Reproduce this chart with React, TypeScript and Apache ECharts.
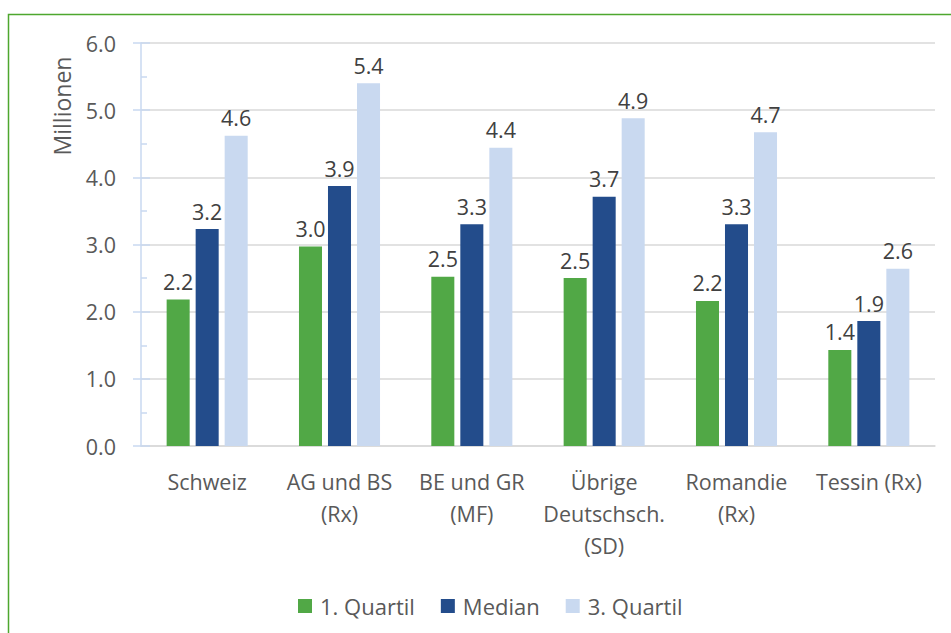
import React, { useEffect, useRef } from "react";
import * as echarts from "echarts";

const categories = ["Schweiz", "AG und BS\n(Rx)", "BE und GR\n(MF)", "Übrige\nDeutschsch.\n(SD)", "Romandie\n(Rx)", "Tessin (Rx)"];
const seriesNames = ["1. Quartil", "Median", "3. Quartil"];
const quartil1 = [2.18, 2.97, 2.52, 2.5, 2.16, 1.43];
const median = [3.23, 3.87, 3.3, 3.71, 3.3, 1.86];
const quartil3 = [4.62, 5.4, 4.44, 4.88, 4.67, 2.64];
const colors = ["#51a846", "#234c8b", "#c9d9f0"];

const FONT = "'Open Sans', 'Noto Sans', sans-serif";

export default function App() {
  const ref = useRef<HTMLDivElement>(null);
  useEffect(() => {
    if (!ref.current) return;
    const chart = echarts.init(ref.current, null, { renderer: "svg" });
    const data = [quartil1, median, quartil3];
    chart.setOption({
      animation: false,
      textStyle: { fontFamily: FONT },
      grid: { left: 141, right: 16, top: 43, bottom: 187, containLabel: false },
      legend: {
        bottom: 16,
        left: 298,
        padding: 0,
        itemWidth: 14,
        itemHeight: 14,
        itemGap: 26,
        icon: "rect",
        textStyle: { fontSize: 22, color: "#595959", fontFamily: FONT, padding: [0, 0, 0, 3] },
        data: seriesNames,
      },
      xAxis: {
        type: "category",
        data: categories,
        axisLine: { show: true, lineStyle: { color: "#d9d9d9", width: 1.5 } },
        axisTick: { show: false },
        axisLabel: { fontSize: 21.5, color: "#595959", margin: 19, lineHeight: 32, interval: 0, fontFamily: FONT },
      },
      yAxis: [
        {
          type: "value",
          min: 0,
          max: 6,
          interval: 1,
          axisLine: { show: true, lineStyle: { color: "#c9d9f0", width: 1.5 } },
          axisTick: { show: true, inside: false, length: 8, lineStyle: { color: "#c9d9f0", width: 1.5 } },
          axisLabel: { fontSize: 21.5, color: "#595959", margin: 25, formatter: (v: number) => v.toFixed(1), fontFamily: FONT },
          splitLine: { show: true, lineStyle: { color: "#d9d9d9", width: 1.5 } },
        },
        {
          type: "value",
          position: "left",
          min: 0,
          max: 6,
          interval: 1,
          axisLine: { show: false },
          axisTick: { show: true, inside: true, length: 9, lineStyle: { color: "#c9d9f0", width: 1.5 } },
          minorTick: { show: true, splitNumber: 2, length: 6, lineStyle: { color: "#c9d9f0", width: 1.5 } },
          axisLabel: { show: false },
          splitLine: { show: false },
        },
      ],
      series: seriesNames.map((name, i) => ({
        name,
        type: "bar",
        data: data[i],
        barWidth: "17.4%",
        barGap: "26%",
        itemStyle: { color: colors[i] },
        label: {
          show: true,
          position: "top",
          distance: 7,
          fontSize: 21.5,
          color: "#404040",
          fontFamily: FONT,
          formatter: (p: any) => Number(p.value).toFixed(1),
        },
      })),
      graphic: [
        {
          type: "rect",
          shape: { x: 8.5, y: 14.5, width: 1000, height: 1000 },
          style: { fill: "none", stroke: "#4ea72e", lineWidth: 1.5 },
          silent: true,
        },
        {
          type: "text",
          x: 62,
          y: 106,
          rotation: Math.PI / 2,
          style: {
            text: "Millionen",
            fontSize: 23,
            fill: "#595959",
            fontFamily: FONT,
            align: "center",
            verticalAlign: "middle",
          },
        },
      ],
    });
    return () => chart.dispose();
  }, []);
  return (
    <div style={{ position: "fixed", left: 0, top: 0, width: 951, height: 633, background: "#fff" }}>
      <div ref={ref} style={{ width: 951, height: 633 }} />
    </div>
  );
}
